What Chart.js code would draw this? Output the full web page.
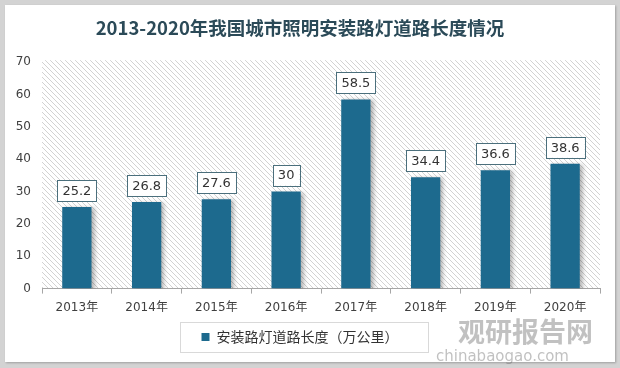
<!DOCTYPE html>
<html>
<head>
<meta charset="utf-8">
<script src="https://cdn.jsdelivr.net/npm/chart.js@4/dist/chart.umd.min.js"></script>
<style>
  html, body { margin: 0; padding: 0; }
  body { width: 620px; height: 368px; background: #d3d3d3; position: relative; overflow: hidden; }
  #frame { position: absolute; left: 5px; top: 5px; width: 610px; height: 357px; background: #fff; box-shadow: 1px 1px 2px rgba(0,0,0,0.25); }
  #wrap { position: absolute; left: 0; top: 0; width: 620px; height: 368px; }
</style>
</head>
<body>
<div id="frame"></div>
<div id="wrap"><canvas id="roadChart" width="620" height="368"></canvas></div>
<script>
// -------- data --------
var years = ['2013年', '2014年', '2015年', '2016年', '2017年', '2018年', '2019年', '2020年'];
var lengths = [25.2, 26.8, 27.6, 30, 58.5, 34.4, 36.6, 38.6];
var seriesName = '安装路灯道路长度（万公里）';
var chartTitle = '2013-2020年我国城市照明安装路灯道路长度情况';

var barColor = '#1d6a8e';
var font = "'DejaVu Sans', 'Noto Sans CJK SC', sans-serif";

// hatched plot background
function makeHatch() {
    var c = document.createElement('canvas');
    c.width = 5; c.height = 5;
    var g = c.getContext('2d');
    g.fillStyle = '#ffffff';
    g.fillRect(0, 0, 5, 5);
    g.strokeStyle = '#d2d2d2';
    g.lineWidth = 1;
    g.beginPath();
    g.moveTo(-1, -1); g.lineTo(6, 6);
    g.moveTo(-1, 4); g.lineTo(1, 6);
    g.moveTo(4, -1); g.lineTo(6, 1);
    g.stroke();
    return g.createPattern(c, 'repeat');
}

var hatchBg = {
    id: 'hatchBg',
    beforeDraw: function (chart) {
        var a = chart.chartArea, ctx = chart.ctx;
        ctx.save();
        ctx.fillStyle = makeHatch();
        ctx.fillRect(a.left, a.top - 2, a.right - a.left, a.bottom - a.top + 2);
        ctx.restore();
    }
};

var barShadow = {
    id: 'barShadow',
    beforeDatasetsDraw: function (chart) {
        var ctx = chart.ctx;
        ctx.save();
        ctx.shadowColor = 'rgba(0,0,0,0.28)';
        ctx.shadowBlur = 4;
        ctx.shadowOffsetX = 3;
        ctx.shadowOffsetY = 1;
    },
    afterDatasetsDraw: function (chart) {
        chart.ctx.restore();
    }
};

// boxed value labels above the bars
var boxLabels = {
    id: 'boxLabels',
    afterDatasetsDraw: function (chart) {
        var ctx = chart.ctx;
        var meta = chart.getDatasetMeta(0);
        ctx.save();
        ctx.font = '13px ' + font;
        ctx.textAlign = 'center';
        ctx.textBaseline = 'middle';
        meta.data.forEach(function (bar, i) {
            var txt = String(lengths[i]);
            var w = ctx.measureText(txt).width + 10;
            var h = 21;
            var x = bar.x - w / 2;
            var y = bar.y - 6 - h;
            ctx.fillStyle = '#ffffff';
            ctx.fillRect(x, y, w, h);
            ctx.strokeStyle = '#4b6f7c';
            ctx.lineWidth = 1;
            ctx.strokeRect(Math.round(x) + 0.5, Math.round(y) + 0.5, Math.round(w), h);
            ctx.fillStyle = '#333333';
            ctx.fillText(txt, bar.x, y + h / 2 + 1);
        });
        ctx.restore();
    }
};

// border round the legend, plus the watermark
var legendBox = {
    id: 'legendBox',
    afterDraw: function (chart) {
        var ctx = chart.ctx;
        var lg = chart.legend;
        ctx.save();
        ctx.strokeStyle = '#d9d9d9';
        ctx.lineWidth = 1;
        ctx.strokeRect(180.5, lg.top + 0.5, 248, 30);

        ctx.fillStyle = 'rgba(100,100,100,0.4)';
        ctx.textAlign = 'left';
        ctx.textBaseline = 'alphabetic';
        ctx.font = "bold 27px 'Noto Sans CJK SC', sans-serif";
        ctx.fillText('观研报告网', 458, 342);
        ctx.font = "15px 'DejaVu Sans', sans-serif";
        ctx.fillText('chinabaogao.com', 436, 361);
        ctx.restore();
    }
};

var ctx1 = document.getElementById('roadChart').getContext('2d');

new Chart(ctx1, {
    type: 'bar',
    data: {
        labels: years,
        datasets: [{
            label: seriesName,
            data: lengths,
            backgroundColor: barColor,
            categoryPercentage: 1,
            barPercentage: 0.42
        }]
    },
    options: {
        responsive: false,
        animation: false,
        layout: { padding: { left: 0, right: 20, top: 0, bottom: 14 } },
        plugins: {
            title: {
                display: true,
                text: chartTitle,
                color: '#2b4a58',
                font: { family: "'Noto Sans CJK SC', sans-serif", size: 18.5, weight: 'bold' },
                padding: { top: 17, bottom: 23 }
            },
            legend: {
                position: 'bottom',
                labels: {
                    color: '#333333',
                    font: { family: "'Noto Sans CJK SC', sans-serif", size: 14 },
                    boxWidth: 8,
                    boxHeight: 8,
                    padding: 8
                }
            },
            tooltip: { enabled: false }
        },
        scales: {
            x: {
                grid: { display: true, drawOnChartArea: false, offset: true, tickLength: 5, color: '#a6a6a6' },
                border: { display: true, color: '#a6a6a6' },
                ticks: { color: '#404040', font: { family: font, size: 12 }, padding: 7 }
            },
            y: {
                min: 0,
                max: 70,
                ticks: { stepSize: 10, color: '#404040', font: { family: font, size: 12 }, padding: 3 },
                grid: { display: false },
                border: { display: false },
                afterFit: function (scale) { scale.width = 42; }
            }
        }
    },
    plugins: [hatchBg, barShadow, boxLabels, legendBox]
});
</script>
</body>
</html>
